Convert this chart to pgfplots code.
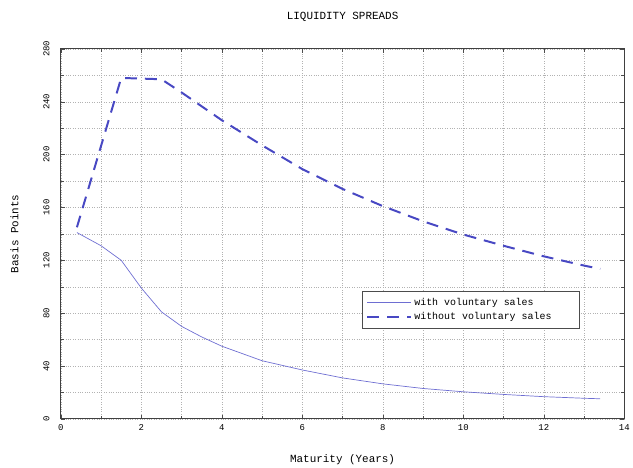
\documentclass[border=0pt]{standalone}
\usepackage{fontspec}
\setmainfont{Liberation Mono}
\usepackage{pgfplots}
\pgfplotsset{compat=1.18}
\definecolor{lineblue}{RGB}{72,72,195}
\definecolor{lightblue}{RGB}{110,110,210}

\begin{document}
\begin{tikzpicture}[x=1bp,y=1bp]
\begin{axis}[
  scale only axis,
  width=565bp, height=371bp,
  xmin=0, xmax=14, ymin=0, ymax=280,
  xtick={0,2,...,14}, minor xtick={1,3,...,13},
  ytick={0,40,...,280}, minor ytick={20,60,...,260},
  tick align=inside,
  major tick length=4bp, minor tick length=3bp,
  grid=both,
  major grid style={dotted, gray!60},
  minor grid style={dotted, gray!60},
  axis line style={line width=1pt, black!75},
  tick style={black!70},
  ticklabel style={font=\fontsize{9}{10}\selectfont, /pgf/number format/assume math mode=true},
  xticklabel style={yshift=-2bp},
  yticklabel style={rotate=90, anchor=south, yshift=8bp},
  title={LIQUIDITY SPREADS},
  title style={font=\fontsize{11}{13}\selectfont, yshift=18bp},
  xlabel={Maturity (Years)},
  ylabel={Basis Points},
  label style={font=\fontsize{11}{13}\selectfont},
  xlabel style={yshift=-17bp},
  ylabel style={yshift=18bp},
  legend cell align=left,
  legend style={at={(0.535,0.346)}, anchor=north west, font=\fontsize{10}{11}\selectfont,
    draw=black!70, inner xsep=4bp, inner ysep=5bp, row sep=2bp},
  legend image code/.code={\draw[#1] (0bp,0bp) -- (44bp,0bp);},
]
\addplot[lightblue, line width=0.7pt] coordinates {
(0.4,141) (1,131) (1.5,120) (2,99) (2.5,81) (3,70) (3.5,62) (4,55) (5,44) (6,37) (7,31) (8,26.5) (9,23) (10,20.5) (11,18.5) (12,16.8) (13,15.6) (13.4,15.2)
};
\addlegendentry{with voluntary sales}
\addplot[lineblue, line width=2pt, dash pattern=on 12bp off 8bp] coordinates {
(0.4,145) (1.5,258) (2.5,257) (3,247) (4,226) (5,207) (6,189) (7,174) (8,161) (9,149.5) (10,139.5) (11,131) (12,123) (13,116) (13.4,113.5)
};
\addlegendentry{without voluntary sales\rule{22bp}{0pt}}
\end{axis}
\path (-61bp,-48bp) rectangle (572bp,420bp);
\end{tikzpicture}
\end{document}
